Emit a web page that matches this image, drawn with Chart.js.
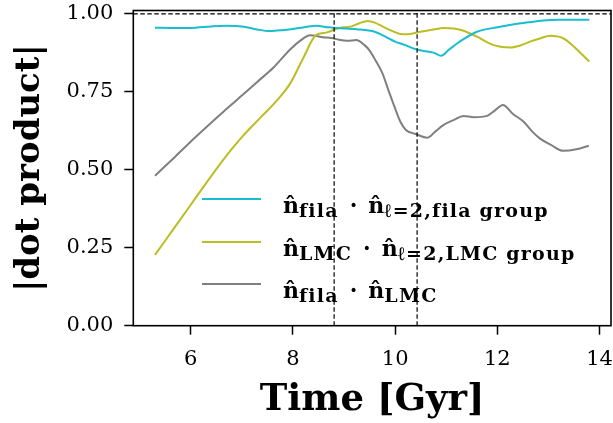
<!DOCTYPE html>
<html>
<head>
<meta charset="utf-8">
<script src="https://cdn.jsdelivr.net/npm/chart.js@4/dist/chart.umd.min.js"></script>
<style>
  html, body { margin: 0; padding: 0; background: #ffffff; }
  #wrap { width: 613px; height: 423px; }
</style>
</head>
<body>
<div id="wrap"><canvas id="c" width="613" height="423"></canvas></div>
<script>
// ---------------- data ----------------
const filaTime = [5.3, 5.7, 6.0, 6.4, 6.7, 7.0, 7.3, 7.55, 7.8, 8.0, 8.25, 8.45, 8.7, 9.0, 9.25, 9.6, 9.8, 10.0, 10.2, 10.4, 10.6, 10.75, 10.9, 11.05, 11.3, 11.6, 12.0, 12.3, 12.6, 12.9, 13.2, 13.5, 13.8];
const filaDot  = [0.956, 0.955, 0.955, 0.960, 0.962, 0.960, 0.950, 0.945, 0.948, 0.952, 0.958, 0.962, 0.957, 0.953, 0.951, 0.943, 0.928, 0.911, 0.900, 0.887, 0.880, 0.876, 0.866, 0.885, 0.915, 0.943, 0.957, 0.966, 0.973, 0.979, 0.981, 0.981, 0.981];

const lmcTime = [5.3, 5.6, 6.0, 6.5, 6.8, 7.0, 7.35, 7.7, 7.95, 8.2, 8.45, 8.65, 8.9, 9.15, 9.3, 9.46, 9.6, 9.75, 9.95, 10.14, 10.3, 10.47, 10.75, 10.95, 11.15, 11.34, 11.6, 11.93, 12.25, 12.45, 12.64, 12.85, 13.03, 13.29, 13.5, 13.8];
const lmcDot  = [0.227, 0.296, 0.388, 0.502, 0.566, 0.605, 0.665, 0.725, 0.778, 0.858, 0.932, 0.940, 0.955, 0.960, 0.970, 0.977, 0.972, 0.960, 0.945, 0.935, 0.936, 0.942, 0.950, 0.955, 0.953, 0.946, 0.927, 0.900, 0.892, 0.899, 0.911, 0.922, 0.930, 0.922, 0.895, 0.847];

const crossTime = [5.3, 5.7, 6.1, 6.65, 7.0, 7.3, 7.62, 7.94, 8.15, 8.33, 8.59, 8.75, 8.9, 9.07, 9.24, 9.4, 9.49, 9.62, 9.75, 9.88, 10.01, 10.1, 10.21, 10.4, 10.63, 10.8, 10.95, 11.15, 11.34, 11.54, 11.8, 11.95, 12.11, 12.3, 12.51, 12.7, 12.83, 13.05, 13.29, 13.55, 13.79];
const crossDot  = [0.481, 0.543, 0.606, 0.688, 0.738, 0.782, 0.828, 0.885, 0.915, 0.932, 0.925, 0.923, 0.917, 0.914, 0.916, 0.900, 0.885, 0.850, 0.810, 0.750, 0.692, 0.655, 0.628, 0.615, 0.603, 0.625, 0.644, 0.660, 0.673, 0.669, 0.673, 0.690, 0.708, 0.680, 0.655, 0.620, 0.601, 0.580, 0.561, 0.566, 0.577];

const xTicks = [6, 8, 10, 12, 14];
const yTicks = [0.00, 0.25, 0.50, 0.75, 1.00];
const yTickLabels = ['0.00', '0.25', '0.50', '0.75', '1.00'];
const xRange = [4.875, 14.225];
const yRange = [0, 1.011];

const vLines = [8.806, 10.43];
const hLines = [1.0];

const xTitle = 'Time [Gyr]';
const yTitle = '|dot product|';

const seriesColors = ['#17becf', '#bcbd22', '#7f7f7f'];
// legend labels: main text and subscripts
const legendLabels = [
  [{t: 'n\u0302'}, {t: 'fila', sub: true}, {t: '\u2002\u00b7\u2002'}, {t: 'n\u0302'}, {t: '\u2113=2,fila group', sub: true}],
  [{t: 'n\u0302'}, {t: 'LMC', sub: true}, {t: '\u2002\u00b7\u2002'}, {t: 'n\u0302'}, {t: '\u2113=2,LMC group', sub: true}],
  [{t: 'n\u0302'}, {t: 'fila', sub: true}, {t: '\u2002\u00b7\u2002'}, {t: 'n\u0302'}, {t: 'LMC', sub: true}]
];

// ---------------- helpers ----------------
const pts = (xs, ys) => xs.map((x, i) => ({x: x, y: ys[i]}));
const SERIF = '"DejaVu Serif", "Liberation Serif", serif';

const framePlugin = {
  id: 'frame',
  afterDatasetsDraw(chart) {
    const {ctx, chartArea: a, scales} = chart;
    ctx.save();
    ctx.beginPath();
    ctx.rect(a.left, a.top, a.right - a.left, a.bottom - a.top);
    ctx.clip();
    ctx.strokeStyle = '#000';
    ctx.lineWidth = 1.2;
    ctx.setLineDash([4.5, 2.5]);
    vLines.forEach(v => {
      const px = scales.x.getPixelForValue(v);
      ctx.beginPath(); ctx.moveTo(px, a.bottom); ctx.lineTo(px, a.top); ctx.stroke();
    });
    hLines.forEach(v => {
      const py = scales.y.getPixelForValue(v);
      ctx.beginPath(); ctx.moveTo(a.left, py); ctx.lineTo(a.right, py); ctx.stroke();
    });
    ctx.restore();

    // legend
    ctx.save();
    const lx0 = 202, lx1 = 261, tx = 283;
    const rowY = [199, 242, 284];
    legendLabels.forEach((parts, i) => {
      ctx.strokeStyle = seriesColors[i];
      ctx.lineWidth = 2;
      ctx.setLineDash([]);
      ctx.beginPath(); ctx.moveTo(lx0, rowY[i]); ctx.lineTo(lx1, rowY[i]); ctx.stroke();
      let x = tx;
      const base = rowY[i] + 14;
      ctx.fillStyle = '#000';
      ctx.textBaseline = 'alphabetic';
      ctx.textAlign = 'left';
      parts.forEach(p => {
        ctx.font = p.sub ? 'bold 19px ' + SERIF : 'bold 22px ' + SERIF;
        ctx.letterSpacing = p.sub ? '1.2px' : '0px';
        ctx.fillText(p.t, x, p.sub ? base + 4 : base);
        x += ctx.measureText(p.t).width;
      });
    });
    ctx.restore();

    // frame
    ctx.save();
    ctx.strokeStyle = '#000';
    ctx.lineWidth = 1.6;
    ctx.strokeRect(a.left, a.top, a.right - a.left, a.bottom - a.top);
    ctx.restore();
  }
};

new Chart(document.getElementById('c'), {
  type: 'line',
  data: {
    datasets: [
      {label: 'fila', data: pts(filaTime, filaDot), borderColor: seriesColors[0]},
      {label: 'LMC', data: pts(lmcTime, lmcDot), borderColor: seriesColors[1]},
      {label: 'fila-LMC', data: pts(crossTime, crossDot), borderColor: seriesColors[2]}
    ].map(d => Object.assign(d, {borderWidth: 2, pointRadius: 0, fill: false, cubicInterpolationMode: 'monotone'}))
  },
  options: {
    responsive: false,
    animation: false,
    devicePixelRatio: 1,
    layout: {padding: {top: 10.5, right: 2, left: 0, bottom: 0}},
    plugins: {legend: {display: false}, tooltip: {enabled: false}},
    scales: {
      x: {
        type: 'linear', min: xRange[0], max: xRange[1],
        afterBuildTicks: s => { s.ticks = xTicks.map(v => ({value: v})); },
        afterFit: s => { s.height = 97.3; s.paddingLeft = 0; s.paddingRight = 0; },
        grid: {drawOnChartArea: false, drawTicks: true, tickLength: 9, tickWidth: 1.5, tickColor: '#000'},
        border: {display: false},
        ticks: {color: '#000', font: {family: SERIF, size: 21}, padding: 12, maxRotation: 0,
                callback: v => String(v)},
        title: {display: true, text: xTitle, color: '#000', font: {family: SERIF, size: 37, weight: 'bold'}, padding: {top: 0, bottom: 0}}
      },
      y: {
        type: 'linear', min: yRange[0], max: yRange[1],
        afterBuildTicks: s => { s.ticks = yTicks.map(v => ({value: v})); },
        afterFit: s => { s.width = 133.3; s.paddingTop = 0; s.paddingBottom = 0; },
        grid: {drawOnChartArea: false, drawTicks: true, tickLength: 9, tickWidth: 1.5, tickColor: '#000'},
        border: {display: false},
        ticks: {color: '#000', font: {family: SERIF, size: 21}, padding: 11,
                callback: v => yTickLabels[yTicks.indexOf(v)] ?? ''},
        title: {display: true, text: yTitle, color: '#000', font: {family: SERIF, size: 34, weight: 'bold'}, padding: {top: 10, bottom: 0}}
      }
    }
  },
  plugins: [framePlugin]
});
</script>
</body>
</html>
